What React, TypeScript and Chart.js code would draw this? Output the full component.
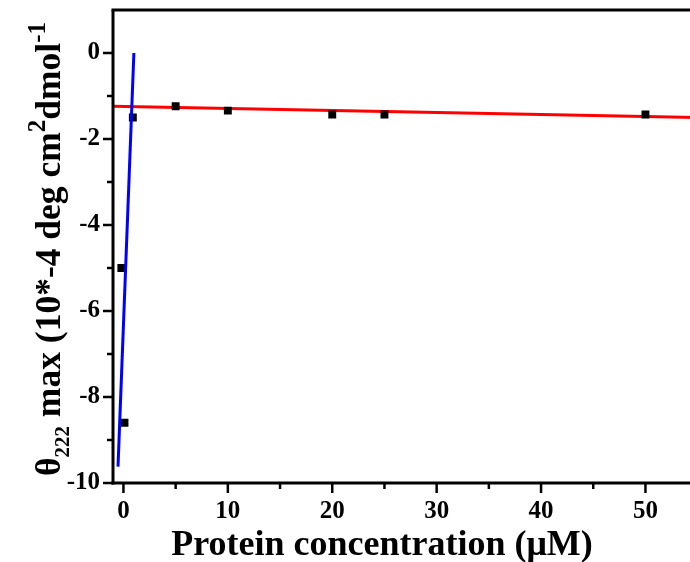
import React, { useEffect, useRef } from "react";
import { Chart, registerables } from "chart.js";

Chart.register(...registerables);

const pointX = [-0.2, 0.1, 0.9, 5, 10, 20, 25, 50];
const pointY = [-5.0, -8.6, -1.5, -1.24, -1.34, -1.43, -1.43, -1.43];
const blueX = [-0.52, 1.0];
const blueY = [-9.62, 0];
const redX = [-1, 55];
const redY = [-1.24, -1.5];
const xMajorTicks = [0, 10, 20, 30, 40, 50];
const xMinorTicks = [5, 15, 25, 35, 45];
const yMajorTicks = [0, -2, -4, -6, -8, -10];
const yMinorTicks = [-1, -3, -5, -7, -9];

const SERIF = "'Liberation Serif', 'Times New Roman', serif";

const tickPlugin = {
  id: "customTicks",
  afterDraw(chart: any) {
    const ctx = chart.ctx;
    const xs = chart.scales.x;
    const ys = chart.scales.y;
    const area = chart.chartArea;
    ctx.save();
    ctx.strokeStyle = "#000";
    ctx.lineWidth = 3;
    ctx.beginPath();
    ctx.moveTo(area.left - 1.5, area.top);
    ctx.lineTo(area.right + 10, area.top);
    ctx.stroke();
    ctx.beginPath();
    ctx.moveTo(area.left, area.top);
    ctx.lineTo(area.left, area.bottom + 1.5);
    ctx.stroke();
    ctx.beginPath();
    ctx.moveTo(area.left - 1.5, area.bottom);
    ctx.lineTo(area.right + 10, area.bottom);
    ctx.stroke();
    ctx.lineWidth = 2.5;
    for (const v of xMajorTicks) {
      const px = xs.getPixelForValue(v);
      ctx.beginPath();
      ctx.moveTo(px, area.bottom);
      ctx.lineTo(px, area.bottom + 10);
      ctx.stroke();
    }
    for (const v of xMinorTicks) {
      const px = xs.getPixelForValue(v);
      ctx.beginPath();
      ctx.moveTo(px, area.bottom);
      ctx.lineTo(px, area.bottom + 6);
      ctx.stroke();
    }
    for (const v of yMajorTicks) {
      const py = ys.getPixelForValue(v);
      ctx.beginPath();
      ctx.moveTo(area.left, py);
      ctx.lineTo(area.left - 10, py);
      ctx.stroke();
    }
    for (const v of yMinorTicks) {
      const py = ys.getPixelForValue(v);
      ctx.beginPath();
      ctx.moveTo(area.left, py);
      ctx.lineTo(area.left - 6, py);
      ctx.stroke();
    }

    ctx.fillStyle = "#000";
    ctx.font = `bold 36px ${SERIF}`;
    ctx.textAlign = "center";
    ctx.textBaseline = "alphabetic";
    ctx.fillText("Protein concentration (\u03bcM)", 382, 555);

    const parts: { t: string; size: number; shift: number }[] = [
      { t: "\u03b8", size: 35.5, shift: 0 },
      { t: "222", size: 21, shift: 9 },
      { t: " max (10*-4 deg cm", size: 35.5, shift: 0 },
      { t: "2", size: 25, shift: -15 },
      { t: "dmol", size: 35.5, shift: 0 },
      { t: "-1", size: 25, shift: -15 },
    ];
    let total = 0;
    for (const p of parts) {
      ctx.font = `bold ${p.size}px ${SERIF}`;
      total += ctx.measureText(p.t).width;
    }
    const centerY = 249;
    const baseX = 60;
    ctx.translate(baseX, centerY + total / 2);
    ctx.rotate(-Math.PI / 2);
    ctx.textAlign = "left";
    let cx = 0;
    for (const p of parts) {
      ctx.font = `bold ${p.size}px ${SERIF}`;
      ctx.fillText(p.t, cx, p.shift);
      cx += ctx.measureText(p.t).width;
    }
    ctx.restore();
  },
};

export default function App() {
  const ref = useRef<HTMLCanvasElement | null>(null);
  useEffect(() => {
    if (!ref.current) return;
    const chart = new Chart(ref.current, {
      type: "scatter",
      data: {
        datasets: [
          {
            type: "line",
            label: "fit1",
            data: blueX.map((x, i) => ({ x, y: blueY[i] })),
            borderColor: "#0000ff",
            borderWidth: 3,
            pointRadius: 0,
            showLine: true,
            order: 0,
          },
          {
            label: "data",
            data: pointX.map((x, i) => ({ x, y: pointY[i] })),
            backgroundColor: "#000",
            borderColor: "#000",
            borderWidth: 0,
            pointStyle: "rect",
            pointRadius: 5.6,
            order: 1,
          },
          {
            type: "line",
            label: "fit2",
            data: redX.map((x, i) => ({ x, y: redY[i] })),
            borderColor: "#ff0000",
            borderWidth: 3,
            pointRadius: 0,
            showLine: true,
            clip: false,
            order: 2,
          },
        ],
      },
      options: {
        animation: false,
        responsive: false,
        maintainAspectRatio: false,
        layout: { padding: { top: 10, right: 0, left: 0, bottom: 0 } },
        plugins: { legend: { display: false }, tooltip: { enabled: false } },
        scales: {
          x: {
            type: "linear",
            min: -1,
            max: 54.4,
            grid: { display: false, drawTicks: false },
            border: { display: false },
            afterFit: (s: any) => {
              s.height = 79;
              s.paddingLeft = 0;
              s.paddingRight = 0;
            },
            afterBuildTicks: (s: any) => {
              s.ticks = xMajorTicks.map((v) => ({ value: v }));
            },
            ticks: {
              color: "#000",
              padding: 14,
              font: { family: SERIF, size: 25, weight: "bold" },
              maxRotation: 0,
            },
          },
          y: {
            type: "linear",
            min: -10,
            max: 1,
            grid: { display: false, drawTicks: false },
            border: { display: false },
            afterFit: (s: any) => {
              s.width = 113;
              s.paddingTop = 0;
              s.paddingBottom = 0;
            },
            afterBuildTicks: (s: any) => {
              s.ticks = yMajorTicks.map((v) => ({ value: v }));
            },
            ticks: {
              color: "#000",
              padding: 13,
              font: { family: SERIF, size: 25, weight: "bold" },
            },
          },
        },
      },
      plugins: [tickPlugin],
    });
    return () => chart.destroy();
  }, []);
  return (
    <div style={{ position: "fixed", left: 0, top: 0, width: 690, height: 562, background: "#fff", overflow: "hidden" }}>
      <canvas ref={ref} width={697} height={562} style={{ width: 697, height: 562, display: "block" }} />
    </div>
  );
}
